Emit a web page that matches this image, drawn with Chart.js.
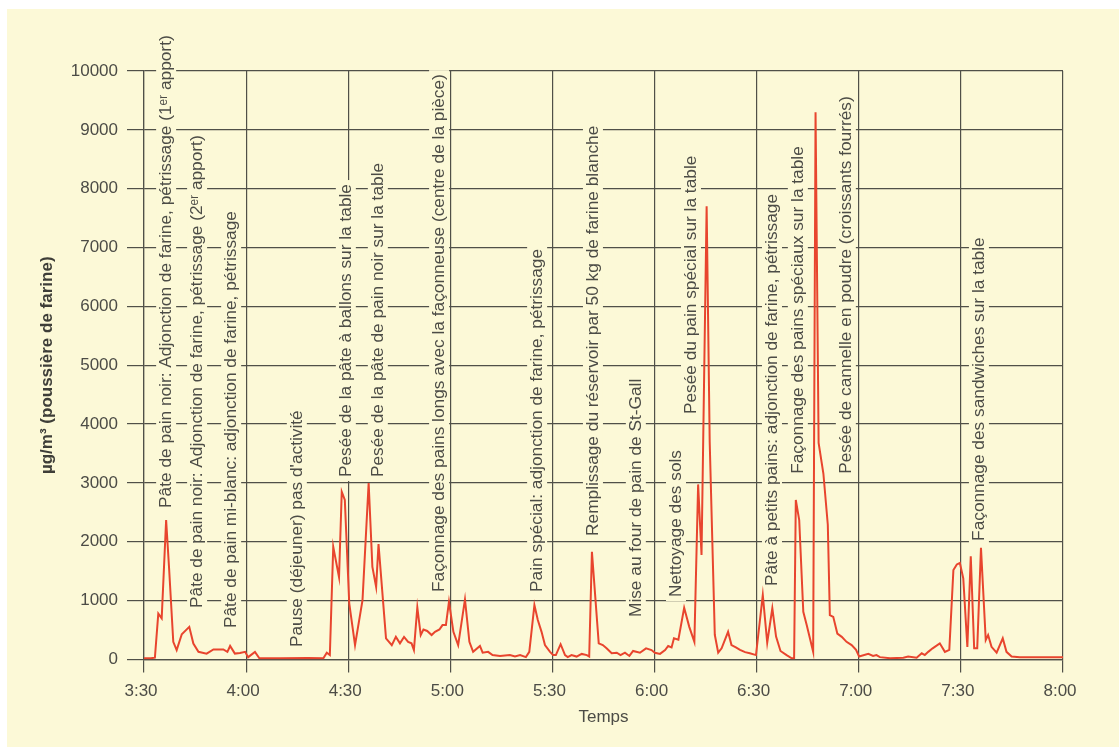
<!DOCTYPE html>
<html>
<head>
<meta charset="utf-8">
<script src="https://cdn.jsdelivr.net/npm/chart.js@4/dist/chart.umd.min.js"></script>
<style>
  html, body { margin: 0; padding: 0; background: #fff; }
  #wrap { position: absolute; left: 0; top: 0; width: 1119px; height: 747px; }
</style>
</head>
<body>
<div id="wrap"><canvas id="dust" width="1119" height="747"></canvas></div>
<script>
/* DATA : minutes after midnight, dust in µg/m³ */
const times = [
  210, 212, 213.2, 214.2, 215.2, 216.5, 217.4, 218.6, 219.6, 221.1, 223.3, 224.5, 226.0, 228.4,
  230.4, 233.3, 234.5, 235.3, 236.7, 238.2, 239.7, 240.6, 242.6, 243.9, 250, 258, 262.7, 263.7,
  264.6, 265.6, 267.3, 268.1, 269.0, 270.3, 272.0, 274.2, 276.0, 277.1, 278.2, 278.9, 281.1, 282.8,
  284.0, 285.2, 286.4, 287.6, 288.6, 289.3, 290.3, 291.3, 292.1, 293.2, 294.5, 295.5, 296.8, 297.7,
  298.7, 299.6, 300.9, 302.3, 304.3, 305.6, 306.7, 308.7, 309.5, 311.1, 312.4, 314.6, 317.5, 319.0,
  320.5, 322.2, 323.2, 324.7, 325.7, 326.8, 327.8, 329.3, 330.2, 331.0, 332.4, 333.7, 334.5, 335.6,
  337.1, 338.6, 340.1, 340.8, 341.6, 343.6, 344.8, 345.9, 347.4, 348.9, 350.0, 351.3, 352.6, 353.7,
  355.7, 357.5, 359.1, 360.1, 361.6, 363.1, 364.0, 365.0, 365.7, 367.0, 368.7, 370.2, 371.7, 372.8,
  373.8, 375.3, 376.2, 377.7, 378.7, 379.7, 381.6, 382.6, 383.9, 385.1, 386.6, 388.0, 389.8, 391.8,
  393.1, 394.6, 395.7, 397.0, 398.8, 400.3, 401.0, 401.5, 402.5, 403.7, 404.7, 406.6, 407.3, 408.2,
  409.6, 410.9, 411.5, 412.5, 413.7, 415.0, 416.4, 417.9, 419.2, 420.1, 422.8, 424.2, 425.2, 426.2,
  429.2, 433.1, 434.5, 437.0, 438.5, 439.4, 440.4, 441.7, 443.8, 445.3, 446.6, 447.8, 448.8, 449.7,
  450.7, 451.9, 452.9, 453.9, 454.8, 455.9, 457.3, 458.0, 459.0, 460.5, 462.3, 463.4, 464.9, 467.3,
  480
];
const dust = [
  20, 20, 30, 780, 700, 2370, 1520, 300, 160, 430, 555, 270, 130, 100,
  170, 170, 130, 230, 100, 110, 130, 40, 130, 20, 20, 25, 20, 115,
  75, 1915, 1400, 2850, 2710, 955, 245, 1010, 3000, 1575, 1235, 1960, 360, 245,
  385, 275, 385, 300, 275, 160, 885, 415, 510, 485, 415, 470, 510, 585,
  585, 980, 470, 245, 1020, 300, 130, 230, 115, 130, 75, 60, 75, 50,
  75, 40, 130, 925, 670, 470, 245, 130, 75, 75, 260, 75, 40, 75,
  50, 95, 75, 50, 1830, 275, 245, 190, 105, 115, 75, 115, 60, 145,
  115, 190, 160, 115, 95, 160, 230, 205, 360, 335, 880, 555, 300, 2975,
  1775, 7700, 3700, 420, 115, 190, 470, 245, 205, 165, 125, 105, 75, 1095,
  285, 870, 390, 145, 75, 20, 20, 2710, 2370, 810, 585, 130, 9300, 3680,
  3160, 2290, 755, 725, 440, 385, 300, 245, 165, 50, 95, 60, 75, 40,
  20, 30, 50, 30, 105, 75, 130, 190, 275, 130, 165, 1520, 1615, 1640,
  1380, 215, 1755, 190, 190, 1900, 330, 415, 215, 115, 360, 130, 50, 40,
  40
];

const xTicks = [210, 240, 270, 300, 330, 360, 390, 420, 450, 480];
const yTicks = [0, 1000, 2000, 3000, 4000, 5000, 6000, 7000, 8000, 9000, 10000];

/* ANNOTATIONS : text, time of column, value where text starts */
const noteText = [
  "Pâte de pain noir: Adjonction de farine, pétrissage (1ᵉʳ apport)",
  "Pâte de pain noir: Adjonction de farine, pétrissage (2ᵉʳ apport)",
  "Pâte de pain mi-blanc: adjonction de farine, pétrissage",
  "Pause (déjeuner) pas d'activité",
  "Pesée de la pâte à ballons sur la table",
  "Pesée de la pâte de pain noir sur la table",
  "Façonnage des pains longs avec la façonneuse (centre de la pièce)",
  "Pain spécial: adjonction de farine, pétrissage",
  "Remplissage du réservoir par 50 kg de farine blanche",
  "Mise au four de pain de St-Gall",
  "Nettoyage des sols",
  "Pesée du pain spécial sur la table",
  "Pâte à petits pains: adjonction de farine, pétrissage",
  "Façonnage des pains spéciaux sur la table",
  "Pesée de cannelle en poudre (croissants fourrés)",
  "Façonnage des sandwiches sur la table"
];
const noteTime = [216.5, 225.6, 235.6, 254.9, 269.3, 278.7, 296.7, 325.5, 341.9, 354.5, 366.3, 370.7, 394.5, 402.1, 416.2, 455.3];
const noteBase = [2575, 875, 535, 212, 3100, 3100, 1148, 1148, 2100, 722, 1062, 4170, 1250, 3155, 3155, 2015];

const CREAM = "#fcf9d7";
const GRID = "#505048";
const INK = "#4c4c46";
const FONT = "'Liberation Sans', Arial, Helvetica, sans-serif";

function fmtTime(v) {
  const h = Math.floor(v / 60);
  const m = v % 60;
  return h + ":" + String(m).padStart(2, "0");
}

/* background + notes */
const notesPlugin = {
  id: "notes",
  beforeDraw(chart) {
    const ctx = chart.ctx;
    ctx.save();
    ctx.fillStyle = "#fff";
    ctx.fillRect(0, 0, chart.width, chart.height);
    ctx.fillStyle = CREAM;
    ctx.fillRect(7, 9, chart.width - 7, chart.height - 9);
    ctx.restore();
  },
  beforeDatasetsDraw(chart) {
    const ctx = chart.ctx;
    const xs = chart.scales.x, ys = chart.scales.y;
    ctx.save();
    ctx.font = "17.3px " + FONT;
    ctx.textAlign = "left";
    ctx.textBaseline = "middle";
    noteText.forEach((t, i) => {
      const px = xs.getPixelForValue(noteTime[i]);
      const py = ys.getPixelForValue(noteBase[i]);
      const w = ctx.measureText(t).width;
      ctx.save();
      ctx.translate(px, py);
      ctx.rotate(-Math.PI / 2);
      ctx.fillStyle = CREAM;
      ctx.fillRect(-4, -10, w + 8, 20);
      ctx.fillStyle = INK;
      ctx.fillText(t, 0, 0);
      ctx.restore();
    });
    ctx.restore();
  }
};

new Chart(document.getElementById("dust"), {
  type: "line",
  data: {
    datasets: [{
      data: times.map((t, i) => ({ x: t, y: dust[i] })),
      borderColor: "#e8452e",
      borderWidth: 2,
      pointRadius: 0,
      tension: 0,
      fill: false
    }]
  },
  options: {
    responsive: false,
    animation: false,
    events: [],
    layout: { padding: { left: 0, top: 71, right: 56, bottom: 0 } },
    plugins: { legend: { display: false }, tooltip: { enabled: false } },
    scales: {
      x: {
        type: "linear",
        min: 210,
        max: 480,
        afterBuildTicks: s => { s.ticks = xTicks.map(v => ({ value: v })); },
        afterFit: s => { s.height = 87.5; },
        ticks: {
          callback: v => fmtTime(v),
          color: INK,
          font: { family: FONT, size: 17 },
          padding: 9,
          labelOffset: -3,
          maxRotation: 0
        },
        grid: { color: GRID, lineWidth: 1.2, tickLength: 13, tickColor: GRID },
        border: { color: GRID, width: 1.2 },
        title: {
          display: true,
          text: "Temps",
          color: INK,
          font: { family: FONT, size: 17 },
          padding: { top: 0, bottom: 19 }
        }
      },
      y: {
        min: 0,
        max: 10000,
        afterBuildTicks: s => { s.ticks = yTicks.map(v => ({ value: v })); },
        afterFit: s => { s.width = 144; },
        ticks: {
          callback: v => String(v),
          color: INK,
          font: { family: FONT, size: 17 },
          padding: 9
        },
        grid: { color: GRID, lineWidth: 1.2, tickLength: 17, tickColor: GRID },
        border: { color: GRID, width: 1.2 },
        title: {
          display: true,
          text: "µg/m³ (poussière de farine)",
          color: "#3e3e38",
          font: { family: FONT, size: 17, weight: "bold" },
          padding: { top: 37, bottom: 0 }
        }
      }
    }
  },
  plugins: [notesPlugin]
});
</script>
</body>
</html>
